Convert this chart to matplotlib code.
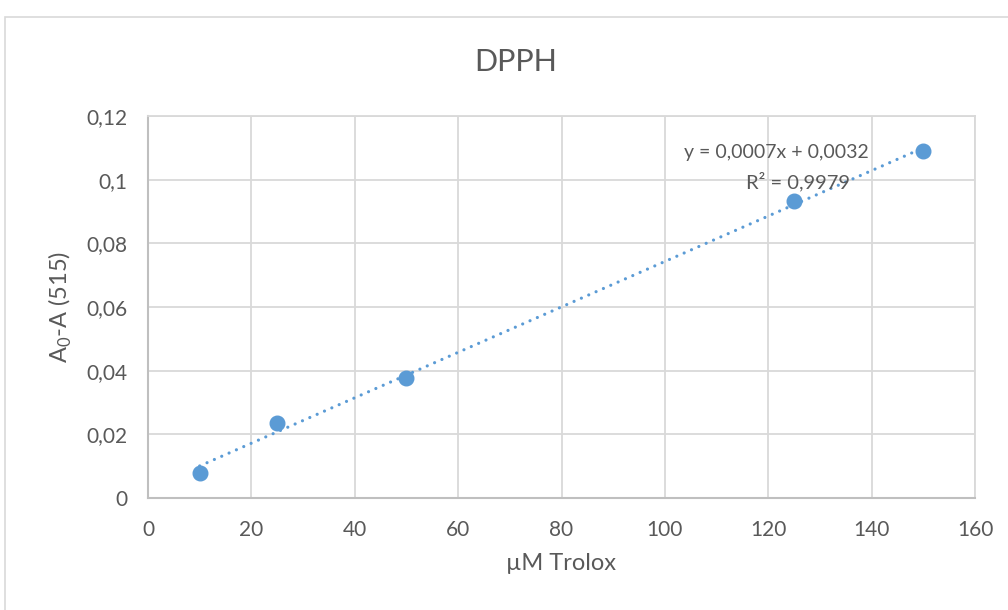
import matplotlib
matplotlib.use("Agg")
import matplotlib.pyplot as plt
import matplotlib.ticker as ticker
from matplotlib.patches import Rectangle
import numpy as np

plt.rcParams['font.family'] = ['Lato', 'DejaVu Sans']

# data
trolox_um = [10, 25, 50, 125, 150]
absorb_diff = [0.0080, 0.0236, 0.0377, 0.0933, 0.1090]

eq_text = 'y = 0,0007x + 0,0032'
r2_text = 'R² = 0,9979'

blue = '#5B9BD5'
grey_txt = '#595959'
grid_col = '#D9D9D9'

fig = plt.figure(figsize=(10.08, 6.10), dpi=100)
ax = fig.add_axes([148/1008, 1-498/610, 827/1008, 382/610])

# chart frame like excel
fig.patches.append(Rectangle((5/1008, -0.1), 1.2, 1-17/610+0.1,
                             transform=fig.transFigure, fill=False,
                             edgecolor=grid_col, lw=1.2))

# trendline (least squares)
k, b = np.polyfit(trolox_um, absorb_diff, 1)
xt = np.array([min(trolox_um), max(trolox_um)])
ax.plot(xt, k*xt + b, color=blue, lw=2.3, linestyle=(0, (0.01, 2.5)),
        dash_capstyle='round', zorder=3)

ax.plot(trolox_um, absorb_diff, 'o', color=blue, ms=10.5, zorder=4)

ax.text(121.5, 0.1084, eq_text, ha='center', va='center', fontsize=14, color=grey_txt)
ax.text(125.8, 0.0993, r2_text, ha='center', va='center', fontsize=14.5, color=grey_txt)

ax.set_xlim(0, 160)
ax.set_ylim(0, 0.12)
ax.xaxis.set_major_locator(ticker.MultipleLocator(20))
ax.yaxis.set_major_locator(ticker.MultipleLocator(0.02))
ax.yaxis.set_major_formatter(ticker.FuncFormatter(
    lambda v, p: ('%g' % round(v, 4)).replace('.', ',')))
ax.grid(color=grid_col, lw=1.3)
ax.set_axisbelow(True)
for s in ['top', 'right']:
    ax.spines[s].set_color(grid_col)
    ax.spines[s].set_linewidth(1.3)
for s in ['left', 'bottom']:
    ax.spines[s].set_color('#BFBFBF')
    ax.spines[s].set_linewidth(1.5)
ax.tick_params(length=0, labelsize=15, labelcolor=grey_txt)
ax.tick_params(axis='y', pad=15)
ax.tick_params(axis='x', pad=16)

fig.text(516/1008, 1-62/610, 'DPPH', ha='center', va='center',
         fontsize=22, color=grey_txt)
ax.set_xlabel('µM Trolox', fontsize=17, color=grey_txt, labelpad=9)
ax.set_ylabel('A$_\\mathregular{0}$-A (515)', fontsize=17, color=grey_txt, labelpad=9)

fig.savefig('out.png', dpi=100)
